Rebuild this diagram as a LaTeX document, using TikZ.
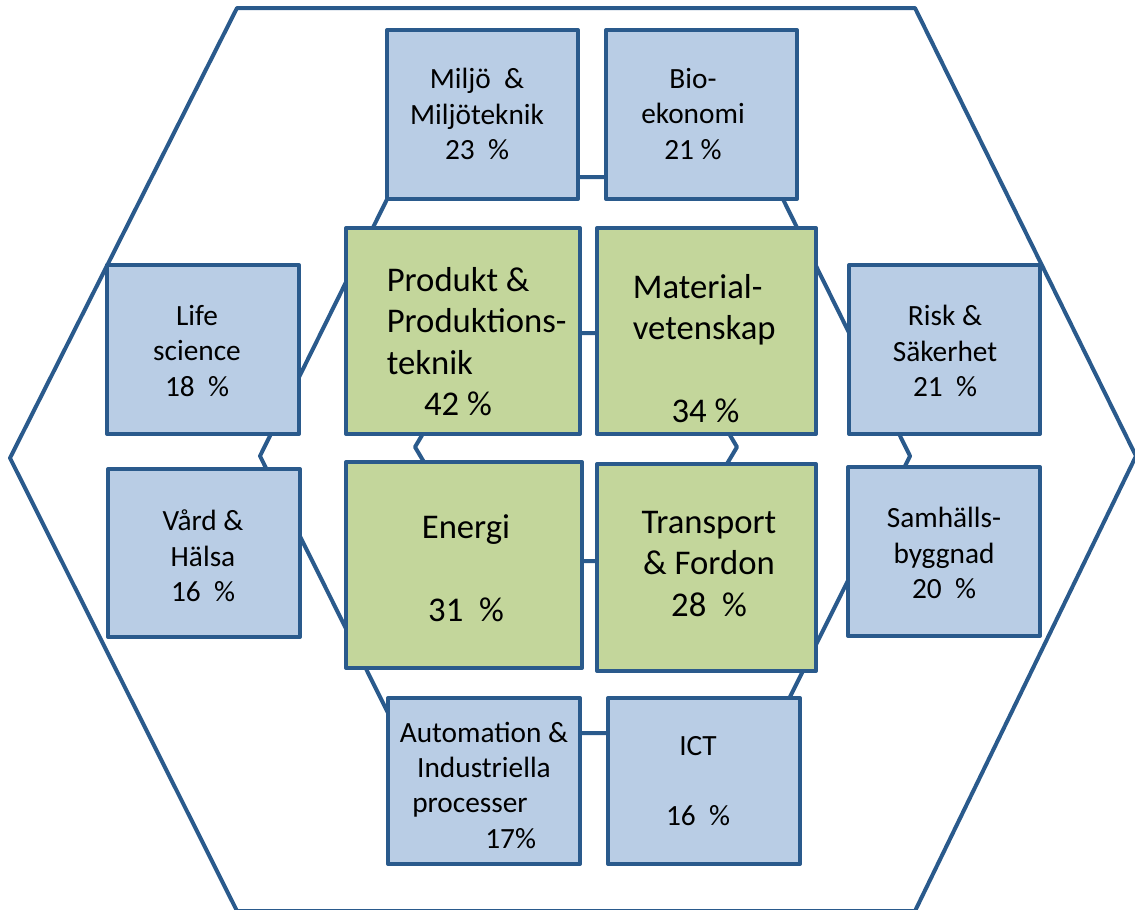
\documentclass[tikz,border=0pt]{standalone}
\usepackage{fontspec}
\setmainfont{Carlito}
\usetikzlibrary{fit}
\definecolor{edgeblue}{HTML}{2A5A8C}
\definecolor{bluefill}{HTML}{B9CDE5}
\definecolor{greenfill}{HTML}{C3D69B}
\begin{document}
\begin{tikzpicture}[x=0.75pt,y=-0.75pt,
  hexline/.style={draw=edgeblue, line width=3pt, line join=round},
  bluebox/.style={draw=edgeblue, fill=bluefill, line width=3pt, line join=round, inner sep=0pt},
  greenbox/.style={draw=edgeblue, fill=greenfill, line width=3pt, line join=round, inner sep=0pt},
  btxt/.style={font=\fontsize{22}{26.5}\selectfont, align=center, inner sep=0pt, text=black},
  gtxt/.style={font=\fontsize{26}{31}\selectfont, inner sep=0pt, text=black}]
\useasboundingbox (0,0) rectangle (1135,910);

% outer hexagon
\coordinate (o1) at (237,8);
\coordinate (o2) at (915,8);
\coordinate (o3) at (1136,456);
\coordinate (o4) at (915,911);
\coordinate (o5) at (237,911);
\coordinate (o6) at (10,458);
\draw[hexline] (o1) -- (o2) -- (o3) -- (o4) -- (o5) -- (o6) -- cycle;

% inner hexagon
\coordinate (i1) at (398,177);
\coordinate (i2) at (772,177);
\coordinate (i3) at (910,456);
\coordinate (i4) at (772,733);
\coordinate (i5) at (398,733);
\coordinate (i6) at (260,456);
\draw[hexline] (i1) -- (i2) -- (i3) -- (i4) -- (i5) -- (i6) -- cycle;

% middle hexagon
\coordinate (m1) at (483,333);
\coordinate (m2) at (669,333);
\coordinate (m3) at (737,447);
\coordinate (m4) at (669,561);
\coordinate (m5) at (483,561);
\coordinate (m6) at (415,447);
\draw[hexline] (m1) -- (m2) -- (m3) -- (m4) -- (m5) -- (m6) -- cycle;

% blue boxes
\node[bluebox, fit={(387,30) (578,199)}] (miljo) {};
\node[bluebox, fit={(606,30) (797,199)}] (bio) {};
\node[bluebox, fit={(107,265) (299,434)}] (life) {};
\node[bluebox, fit={(849,265) (1040,434)}] (risk) {};
\node[bluebox, fit={(108,469) (300,637)}] (vard) {};
\node[bluebox, fit={(848,467) (1040,636)}] (samh) {};
\node[bluebox, fit={(388,698) (580,864)}] (auto) {};
\node[bluebox, fit={(608,698) (800,864)}] (ict) {};
% green boxes
\node[greenbox, fit={(346,228) (580,434)}] (prod) {};
\node[greenbox, fit={(597,228) (816,434)}] (mat) {};
\node[greenbox, fit={(346,462) (582,668)}] (energi) {};
\node[greenbox, fit={(597,464) (816,671)}] (transp) {};

% texts
\node[btxt] (tmiljo) at (477,114) {Miljö~ \&\\Miljöteknik\\23~ \%};
\node[btxt] (tbio) at (693,114) {Bio-\\ekonomi\\21 \%};
\node[btxt] (tlife) at (197,351) {Life\\science\\18~ \%};
\node[btxt] (trisk) at (945,351) {Risk \&\\Säkerhet\\21~ \%};
\node[btxt] (tvard) at (203,556) {Vård \&\\Hälsa\\16~ \%};
\node[btxt] (tsamh) at (944,553) {Samhälls-\\byggnad\\20~ \%};
\node[btxt] (tauto) at (484,785) {Automation \&\\Industriella\\processer\mbox{\hspace{21pt}}\\\hspace*{40pt}17\%};
\node[btxt] (tict) at (698,781) {ICT\\\strut\\16~ \%};
\node[gtxt, align=left, anchor=west] (tprod) at (386.5,341.5) {Produkt \&\\Produktions-\\teknik\\\hspace*{28pt}42 \%};
\node[gtxt, align=left, anchor=west] (tmat) at (632.6,348.5) {Material-\\vetenskap\\\strut\\\hspace*{29pt}34 \%};
\node[gtxt, align=center] (tenergi) at (466,568.5) {Energi\\\strut\\31~ \%};
\node[gtxt, align=center] (ttransp) at (709,564) {Transport\\\& Fordon\\28~ \%};
\end{tikzpicture}
\end{document}
